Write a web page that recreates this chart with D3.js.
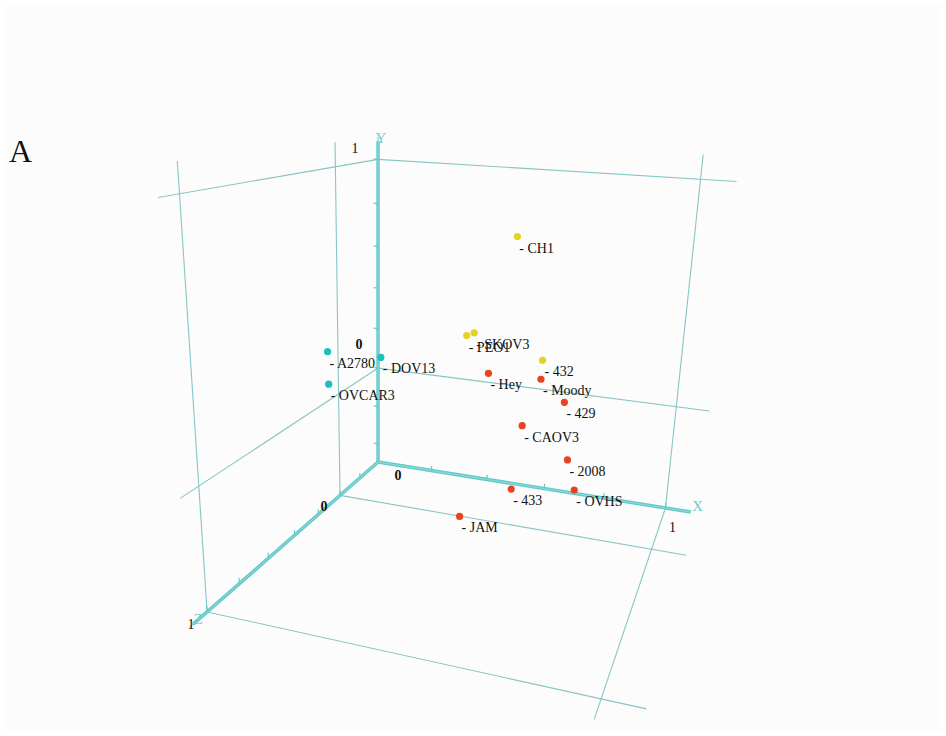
<!DOCTYPE html>
<html><head><meta charset="utf-8">
<script src="https://cdn.jsdelivr.net/npm/d3@7"></script>
<style>html,body{margin:0;padding:0;background:#fff;}svg{display:block;}</style>
</head><body>
<svg id="chart" width="946" height="736"></svg>
<script>
// ---- data ----
const cellLines = ["A2780","DOV13","OVCAR3","CH1","PEO1","SKOV3","432","Hey","Moody","429","CAOV3","2008","433","OVHS","JAM"];
const groupOf   = [0,0,0,1,1,1,1,2,2,2,2,2,2,2,2];
const xValues = [0.003,0.142,0.043,0.571,0.462,0.471,0.696,0.551,0.713,0.769,0.690,0.795,0.690,0.833,0.583];
const yValues = [0.228,0.197,0.120,0.791,0.402,0.401,0.371,0.293,0.331,0.235,0.182,0.030,-0.024,-0.038,-0.111];
const zValues = [0.100,0.000,0.200,0.100,0.200,0.150,0.300,0.300,0.400,0.350,0.500,0.400,0.600,0.500,0.700];
const groupColors = ["#1fbdbd","#e6d21c","#e8421f"];
const gridValues = [0,1];
const tickValues = [-0.4,-0.2,0,0.2,0.4,0.6,0.8,1];
const tickLabelValues = [0,1];
const tickLabels = ["0","1"];
const axisNames = ["X","Y","Z"];
const panelLabel = "A";

// ---- camera / scales ----
const cam = {cx:470, cy:408, f:965,
  Ru:[0.9485,0.0311,-0.3152], Rv:[0.1311,-0.9447,0.3012], Rw:[-0.2882,-0.3265,-0.8998],
  t:[-2.954,1.736,31]};
const xS = d3.scaleLinear().domain([0,1]).range([0,9.17]);
const yS = d3.scaleLinear().domain([-0.5,1]).range([0,9.45]);
const zS = d3.scaleLinear().domain([-0.4,1]).range([0,9.8]);
const dom = {x:[0,1.1], y:[-0.5,1.1], z:[-0.4,1.1]};
const axisEnd = 1.08;
const dot3=(a,b)=>a[0]*b[0]+a[1]*b[1]+a[2]*b[2];
function project(P){const u=cam.t[0]+dot3(cam.Ru,P),v=cam.t[1]+dot3(cam.Rv,P),w=cam.t[2]+dot3(cam.Rw,P);return [cam.cx+cam.f*u/w,cam.cy+cam.f*v/w,w];}
const proj=(x,y,z)=>project([xS(x),yS(y),zS(z)]);
const line=d3.line();
const path2=s=>line(s.map(p=>proj(...p).slice(0,2)));

const svg=d3.select("#chart");
svg.append("rect").attr("x",5).attr("y",5).attr("width",936).attr("height",726).attr("fill","#fcfcfc");
svg.append("text").attr("x",9).attr("y",162).attr("font-family","Liberation Serif").attr("font-size",32).attr("fill","#111").text(panelLabel);

const g=svg.append("g");
// grid lines on three planes
const segs=[];
gridValues.forEach(v=>{
  segs.push([[dom.x[0],v,dom.z[0]],[dom.x[1],v,dom.z[0]]]);
  segs.push([[v,dom.y[0],dom.z[0]],[v,dom.y[1],dom.z[0]]]);
  segs.push([[dom.x[0],v,dom.z[0]],[dom.x[0],v,dom.z[1]]]);
  segs.push([[dom.x[0],dom.y[0],v],[dom.x[0],dom.y[1],v]]);
  segs.push([[dom.x[0],dom.y[0],v],[dom.x[1],dom.y[0],v]]);
  segs.push([[v,dom.y[0],dom.z[0]],[v,dom.y[0],dom.z[1]]]);
});
g.selectAll("path.grid").data(segs).join("path").attr("class","grid")
 .attr("d",path2).attr("stroke","#88c6c6").attr("stroke-width",1.1).attr("fill","none");

// axes
const o=[dom.x[0],dom.y[0],dom.z[0]];
const axes=[[o,[axisEnd,dom.y[0],dom.z[0]]],[o,[dom.x[0],axisEnd,dom.z[0]]],[o,[dom.x[0],dom.y[0],axisEnd]]];
g.selectAll("path.axis").data(axes).join("path").attr("class","axis").attr("d",path2)
 .attr("stroke","#66c9c9").attr("stroke-width",3.5).attr("stroke-linecap","butt").attr("fill","none");
g.selectAll("path.axisHi").data(axes).join("path").attr("class","axisHi").attr("d",path2)
 .attr("stroke","#8fd9d9").attr("stroke-width",1).attr("fill","none");

// ticks
const ticks=[];
tickValues.forEach(v=>{
  if(v>=dom.x[0]) ticks.push([[v,dom.y[0],dom.z[0]],[v,dom.y[0]+0.025,dom.z[0]]]);
  ticks.push([[dom.x[0],v,dom.z[0]],[dom.x[0]-0.016,v,dom.z[0]]]);
  if(v>dom.z[0]) ticks.push([[dom.x[0],dom.y[0],v],[dom.x[0],dom.y[0]+0.025,v]]);
});
g.selectAll("path.tick").data(ticks).join("path").attr("class","tick").attr("d",path2)
 .attr("stroke","#66c9c9").attr("stroke-width",1.2).attr("fill","none");

// tick labels (pixel offsets from projected tick position)
const tl=[];
const offs={x:[[20,13],[7,19]], y:[[-19,-24],[-23,-11]], z:[[-16,11],[-16,12]]};
tickLabelValues.forEach((v,i)=>{
  tl.push({p:proj(v,dom.y[0],dom.z[0]),o:offs.x[i],t:tickLabels[i]});
  tl.push({p:proj(dom.x[0],v,dom.z[0]),o:offs.y[i],t:tickLabels[i]});
  tl.push({p:proj(dom.x[0],dom.y[0],v),o:offs.z[i],t:tickLabels[i]});
});
svg.selectAll("text.tl").data(tl).join("text").attr("class","tl")
 .attr("x",d=>d.p[0]+d.o[0]).attr("y",d=>d.p[1]+d.o[1]).attr("dy","0.35em")
 .attr("text-anchor","middle").attr("font-family","Liberation Serif").attr("font-size",14)
 .attr("font-weight",d=>d.t==="0"?"bold":"normal").attr("fill","#111").text(d=>d.t);

// axis names
const an=[{p:proj(axisEnd,dom.y[0],dom.z[0]),o:[7,-6]},{p:proj(dom.x[0],axisEnd,dom.z[0]),o:[3,-4]},{p:proj(dom.x[0],dom.y[0],axisEnd),o:[5,-5]}];
svg.selectAll("text.an").data(an).join("text").attr("class","an")
 .attr("x",d=>d.p[0]+d.o[0]).attr("y",d=>d.p[1]+d.o[1]).attr("dy","0.35em").attr("text-anchor","middle")
 .attr("font-family","Liberation Serif").attr("font-size",15).attr("fill","#6ccccc").text((d,i)=>axisNames[i]);

// points
const pts=cellLines.map((n,i)=>{const p=proj(xValues[i],yValues[i],zValues[i]);return {name:n,g:groupOf[i],sx:p[0],sy:p[1],w:p[2]};})
 .sort((a,b)=>b.w-a.w);
const pg=svg.append("g");
pg.selectAll("circle").data(pts).join("circle").attr("cx",d=>d.sx).attr("cy",d=>d.sy).attr("r",3.6).attr("fill",d=>groupColors[d.g]);
pg.selectAll("text").data(pts).join("text").attr("x",d=>d.sx+2).attr("y",d=>d.sy+16)
 .attr("font-family","Liberation Serif").attr("font-size",14).attr("fill","#111").text(d=>"- "+d.name);
</script></body></html>
